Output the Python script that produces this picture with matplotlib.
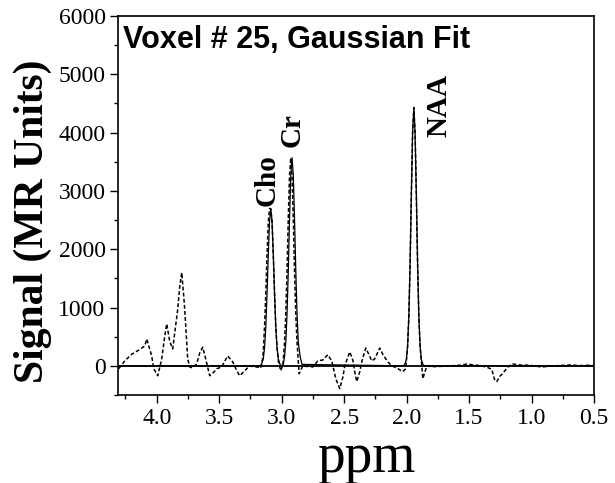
import matplotlib
matplotlib.use("Agg")
import matplotlib.pyplot as plt
from matplotlib.ticker import MultipleLocator

# Measured spectrum (dashed), ppm vs signal
data_ppm = [4.304, 4.256, 4.200, 4.144, 4.096, 4.080, 4.040, 4.024, 3.992, 3.960,
            3.936, 3.920, 3.896, 3.872, 3.848, 3.832, 3.816, 3.800, 3.784, 3.776,
            3.752, 3.736, 3.712, 3.680, 3.656, 3.632, 3.608, 3.576, 3.544, 3.520,
            3.480, 3.456, 3.432, 3.392, 3.360, 3.336, 3.304, 3.280, 3.256, 3.216,
            3.192, 3.168, 3.150, 3.137, 3.127, 3.117, 3.107, 3.097, 3.087, 3.077,
            3.067, 3.057, 3.047, 3.037, 3.025, 3.007, 2.990, 2.977, 2.967, 2.957,
            2.947, 2.937, 2.927, 2.917, 2.907, 2.897, 2.887, 2.877, 2.860, 2.831,
            2.807, 2.775, 2.751, 2.711, 2.671, 2.631, 2.599, 2.567, 2.535, 2.511,
            2.495, 2.455, 2.431, 2.415, 2.399, 2.375, 2.359, 2.327, 2.303, 2.279,
            2.255, 2.215, 2.191, 2.151, 2.119, 2.079, 2.031, 2.007, 1.992, 1.982,
            1.972, 1.962, 1.952, 1.942, 1.932, 1.922, 1.912, 1.902, 1.892, 1.870,
            1.838, 1.798, 1.734, 1.654, 1.574, 1.518, 1.454, 1.398, 1.350, 1.318,
            1.294, 1.278, 1.254, 1.230, 1.198, 1.158, 1.094, 1.014, 0.918, 0.854,
            0.774, 0.694, 0.613, 0.533, 0.500]
data_signal = [-50, 85, 200, 270, 340, 460, 170, -50, -170, 120,
               510, 720, 420, 290, 700, 970, 1350, 1600, 1200, 970,
               120, -20, -35, 35, 220, 320, 120, -170, -110, -50,
               -20, 80, 170, 70, -80, -170, -100, -50, 0, -20,
               -20, -40, 150, 670, 1240, 1910, 2475, 2700, 2690, 2475,
               1910, 1240, 670, 310, 60, -85, 20, 400, 890, 1635,
               2525, 3270, 3570, 3270, 2525, 1635, 890, 405, -135, 0,
               -10, -10, -20, 85, 100, 190, 85, -220, -390, -200,
               0, 240, 100, -100, -270, -100, 70, 305, 200, 85,
               120, 305, 200, 70, 0, -35, -100, -50, 335, 850,
               1750, 2935, 3995, 4430, 3995, 2935, 1750, 850, 335, -220,
               0, -15, -10, 0, 10, 30, 15, 0, -30, -60,
               -250, -270, -180, -130, -40, 35, 15, 10, -20, -5,
               5, 15, 5, 10, 0]

# Gaussian fit (solid)
fit_ppm = [4.35, 3.177, 3.162, 3.147, 3.137, 3.127, 3.117, 3.107, 3.097, 3.087,
           3.077, 3.067, 3.057, 3.047, 3.037, 3.027, 3.012, 3.005, 3.002, 2.987,
           2.977, 2.967, 2.957, 2.947, 2.937, 2.927, 2.917, 2.907, 2.897, 2.887,
           2.877, 2.867, 2.852, 2.837, 2.032, 2.017, 2.002, 1.992, 1.982, 1.972,
           1.962, 1.952, 1.942, 1.932, 1.922, 1.912, 1.902, 1.892, 1.882, 1.867,
           1.852, 0.45]
fit_signal = [0, 0, 20, 120, 310, 670, 1240, 1910, 2475, 2700,
              2475, 1910, 1240, 670, 310, 120, 20, 5, 5, 25,
              155, 405, 890, 1635, 2525, 3270, 3570, 3270, 2525, 1635,
              890, 405, 155, 25, 0, 15, 105, 335, 850, 1750,
              2935, 3995, 4430, 3995, 2935, 1750, 850, 335, 105, 15,
              0, 0]

peak_names = ["Cho", "Cr", "NAA"]
peak_label_ppm = [3.12, 2.92, 1.742]
peak_label_signal = [3190, 4040, 4470]

title_text = "Voxel # 25, Gaussian Fit"

fig = plt.figure(figsize=(6.15, 4.83), dpi=100)
ax = fig.add_axes([118/615, 1-395/483, (594-118)/615, (395-16)/483])

ax.axhline(0, color="black", lw=1.3, zorder=1)
ax.plot(data_ppm, data_signal, color="black", lw=1.1, ls=(0, (2.5, 1.5)), zorder=2)
ax.plot(fit_ppm, fit_signal, color="black", lw=0.9, zorder=3)

ax.set_xlim(4.31, 0.5)
ax.set_ylim(-500, 6000)
ax.xaxis.set_major_locator(MultipleLocator(0.5))
ax.xaxis.set_minor_locator(MultipleLocator(0.25))
ax.yaxis.set_major_locator(MultipleLocator(1000))
ax.yaxis.set_minor_locator(MultipleLocator(500))
ax.tick_params(which="both", direction="out", top=False, right=False, width=1.0)
ax.tick_params(which="major", length=6, labelsize=17, pad=3)
ax.tick_params(which="minor", length=3)
for lab in ax.get_xticklabels() + ax.get_yticklabels():
    lab.set_fontfamily("Liberation Serif")
ax.xaxis.set_major_formatter(matplotlib.ticker.FormatStrFormatter("%.1f"))
for sp in ax.spines.values():
    sp.set_linewidth(1.2)

ax.set_xlabel("ppm", family="Liberation Serif", fontsize=40)
ax.xaxis.set_label_coords(0.521, -0.098)
ax.set_ylabel("Signal (MR Units)", family="Liberation Serif", fontsize=30,
              fontweight="bold")
ax.yaxis.set_label_coords(-0.138, 0.458)

ax.text(0.011, 0.975, title_text, transform=ax.transAxes, ha="left", va="top",
        family="Liberation Sans", fontweight="bold", fontsize=22)

for name, px, py in zip(peak_names, peak_label_ppm, peak_label_signal):
    ax.text(px, py, name, rotation=90, ha="center", va="center",
            family="Liberation Serif", fontweight="bold", fontsize=21)

fig.savefig("out.png", dpi=100)
